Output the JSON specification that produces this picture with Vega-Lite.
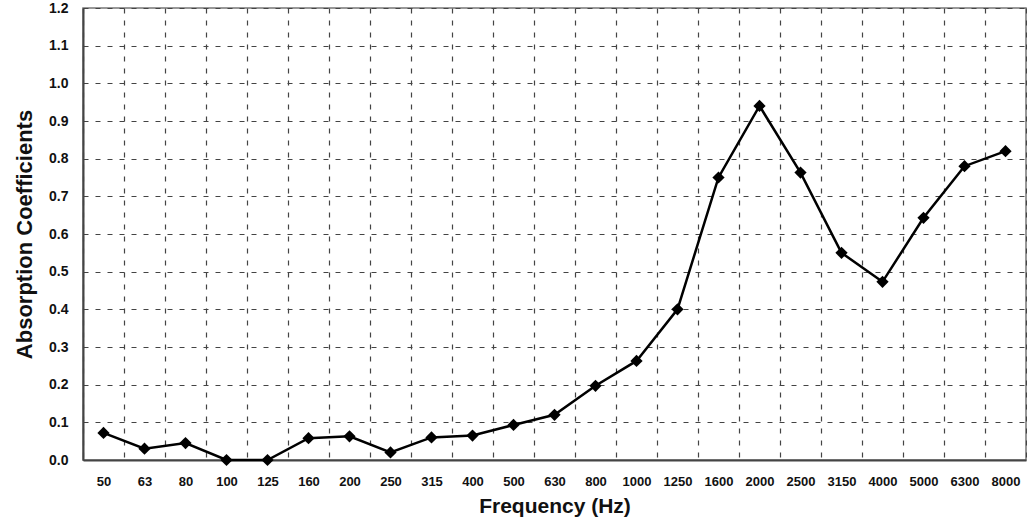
{
  "$schema": "https://vega.github.io/schema/vega-lite/v6.json",
  "width": 943,
  "height": 452,
  "autosize": "none",
  "padding": {"left": 83, "top": 8, "right": 1, "bottom": 61},
  "background": "white",
  "config": {
    "font": "Liberation Sans",
    "view": {"stroke": "#777", "strokeWidth": 1.5}
  },
  "data": {
    "values": [
      {"f": "50", "a": 0.072},
      {"f": "63", "a": 0.03},
      {"f": "80", "a": 0.045},
      {"f": "100", "a": 0.0},
      {"f": "125", "a": 0.0},
      {"f": "160", "a": 0.058},
      {"f": "200", "a": 0.063},
      {"f": "250", "a": 0.02},
      {"f": "315", "a": 0.06},
      {"f": "400", "a": 0.065},
      {"f": "500", "a": 0.093},
      {"f": "630", "a": 0.12},
      {"f": "800", "a": 0.197},
      {"f": "1000", "a": 0.263},
      {"f": "1250", "a": 0.40},
      {"f": "1600", "a": 0.75},
      {"f": "2000", "a": 0.94},
      {"f": "2500", "a": 0.763},
      {"f": "3150", "a": 0.55},
      {"f": "4000", "a": 0.473},
      {"f": "5000", "a": 0.643},
      {"f": "6300", "a": 0.78},
      {"f": "8000", "a": 0.82}
    ]
  },
  "encoding": {
    "x": {
      "field": "f",
      "type": "ordinal",
      "sort": null,
      "scale": {"type": "band", "paddingInner": 0, "paddingOuter": 0},
      "axis": {
        "title": "Frequency (Hz)",
        "titleFontSize": 21,
        "titleFontWeight": "bold",
        "titleColor": "#111",
        "titlePadding": 7,
        "labelAngle": 0,
        "labelFontSize": 13,
        "labelFontWeight": "bold",
        "labelColor": "#111",
        "labelPadding": 15,
        "ticks": false,
        "tickBand": "extent",
        "grid": true,
        "gridColor": "#444",
        "gridDash": [5, 7],
        "gridWidth": 1.2,
        "domainColor": "#444",
        "domainWidth": 2
      }
    },
    "y": {
      "field": "a",
      "type": "quantitative",
      "scale": {"domain": [0, 1.2], "nice": false},
      "axis": {
        "title": "Absorption Coefficients",
        "titleFontSize": 22,
        "titleFontWeight": "bold",
        "titleColor": "#111",
        "titlePadding": 12,
        "values": [0, 0.1, 0.2, 0.3, 0.4, 0.5, 0.6, 0.7, 0.8, 0.9, 1.0, 1.1, 1.2],
        "format": ".1f",
        "labelFontSize": 14,
        "labelFontWeight": "bold",
        "labelColor": "#111",
        "labelPadding": 15,
        "ticks": false,
        "grid": true,
        "gridColor": "#444",
        "gridDash": [5, 7],
        "gridWidth": 1.2,
        "domainColor": "#444",
        "domainWidth": 2
      }
    }
  },
  "layer": [
    {"mark": {"type": "line", "color": "#000", "strokeWidth": 2.5}},
    {"mark": {"type": "point", "shape": "diamond", "filled": true, "color": "#000", "opacity": 1, "size": 150}}
  ]
}
